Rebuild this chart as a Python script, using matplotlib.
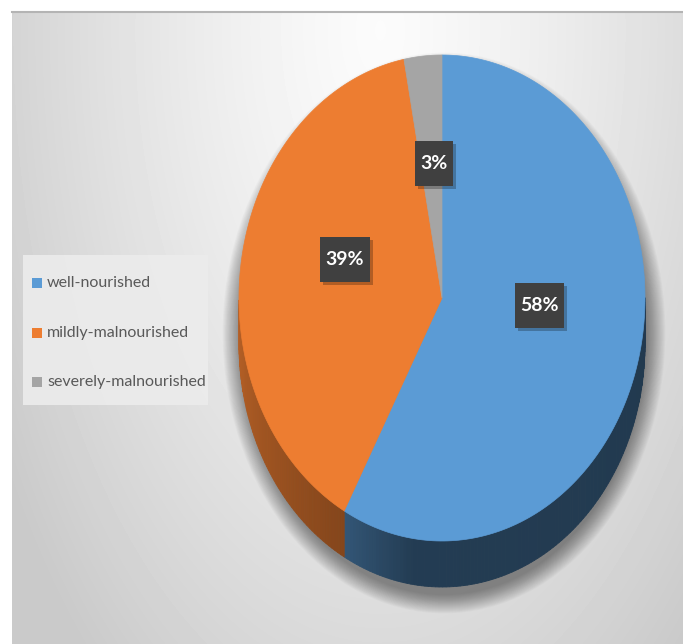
import matplotlib
matplotlib.use('Agg')
import matplotlib.pyplot as plt
import numpy as np
from matplotlib.patches import Polygon, Rectangle, Ellipse

categories = ['well-nourished', 'mildly-malnourished', 'severely-malnourished']
shares = [58, 39, 3]
pct_labels = ['58%', '39%', '3%']
colors = ['#5b9bd5', '#ed7d31', '#a5a5a5']

plt.rcParams['font.family'] = ['Lato', 'DejaVu Sans']

W, H = 683, 644
fig = plt.figure(figsize=(W / 100, H / 100), dpi=100)
ax = fig.add_axes([0, 0, 1, 1])

# fond gris en degrade radial
yy, xx = np.mgrid[11:H, 12:W]
d = np.sqrt(((xx - 380) / 380.0) ** 2 + ((yy - 30) / 720.0) ** 2)
v = np.clip(0.985 - 0.16 * d ** 1.3, 0.79, 1)
ax.imshow(v, cmap='gray', vmin=0, vmax=1, extent=[12, W, H, 11],
          zorder=0, interpolation='bilinear', aspect='auto')
ax.plot([12, W], [11.5, 11.5], color='#b4b4b4', lw=1.5, zorder=1)
ax.set_xlim(0, W)
ax.set_ylim(H, 0)
ax.axis('off')

# geometrie du camembert "3D"
cx, cy = 442, 298
rx, ry = 203, 243
depth = 46

def pt(t):
    r = np.radians(t)
    return cx + rx * np.cos(r), cy - ry * np.sin(r)

# ombre portee (floue)
for s in range(24):
    ax.add_patch(Ellipse((cx + 2, cy + depth / 2 + 12), 2 * rx + 1.6 * s,
                         2 * ry + depth + 1.6 * s - 8, color='black',
                         alpha=0.018, lw=0, zorder=2))

cum = np.concatenate([[0], np.cumsum(shares)]) / float(sum(shares)) * 360
starts = 90 - cum[:-1]
ends = 90 - cum[1:]

def shade(t):
    t = t % 360
    return np.interp(t, [180, 241, 262, 360], [0.78, 0.56, 0.39, 0.37])

# cotes
for i in range(len(shares)):
    base = np.array(matplotlib.colors.to_rgb(colors[i]))
    ts = np.linspace(ends[i], starts[i], int(abs(starts[i] - ends[i])) + 2)
    for t1, t2 in zip(ts[:-1], ts[1:]):
        if np.sin(np.radians((t1 + t2) / 2)) > 0:
            continue
        x1, y1 = pt(t1)
        x2, y2 = pt(t2)
        c = base * shade((t1 + t2) / 2)
        ax.add_patch(Polygon([(x1, y1), (x2, y2), (x2, y2 + depth), (x1, y1 + depth)],
                             closed=True, facecolor=c, edgecolor=c, lw=0.6, zorder=3))

# dessus
for i in range(len(shares)):
    ts = np.linspace(starts[i], ends[i], 200)
    xs, ys = pt(ts)
    verts = [(cx, cy)] + list(zip(xs, ys))
    ax.add_patch(Polygon(verts, closed=True, facecolor=colors[i],
                         edgecolor=colors[i], lw=0.5, zorder=4))

# etiquettes
lcx, lcy = 443, 277
fig.canvas.draw()
renderer = fig.canvas.get_renderer()
inv = ax.transData.inverted()
for i in range(len(shares)):
    mid = np.radians((starts[i] + ends[i]) / 2)
    lx = lcx + 0.49 * rx * np.cos(mid)
    ly = lcy - 0.47 * ry * np.sin(mid)
    t = ax.text(lx, ly, pct_labels[i], color='white', fontsize=14,
                fontweight='bold', ha='center', va='center', zorder=7)
    bb = t.get_window_extent(renderer)
    (x0, _), (x1, _) = inv.transform([(bb.x0, bb.y0), (bb.x1, bb.y1)])
    bw = abs(x1 - x0) + 11
    bh = 45
    ax.add_patch(Rectangle((lx - bw / 2 + 3, ly - bh / 2 + 3), bw, bh,
                           facecolor='black', alpha=0.25, lw=0, zorder=5))
    ax.add_patch(Rectangle((lx - bw / 2, ly - bh / 2), bw, bh,
                           facecolor='#404040', lw=0, zorder=6))

# legende
ax.add_patch(Rectangle((23, 255), 185, 150, facecolor='#ececec', alpha=0.9,
                       lw=0, zorder=5))
for i, name in enumerate(categories):
    yc = 283 + 49.5 * i
    ax.add_patch(Rectangle((32, yc - 5), 10, 10, facecolor=colors[i], lw=0, zorder=6))
    ax.text(47, yc, name, color='#595959', fontsize=11.5, ha='left', va='center',
            zorder=6)

fig.savefig('out.png', dpi=100)
